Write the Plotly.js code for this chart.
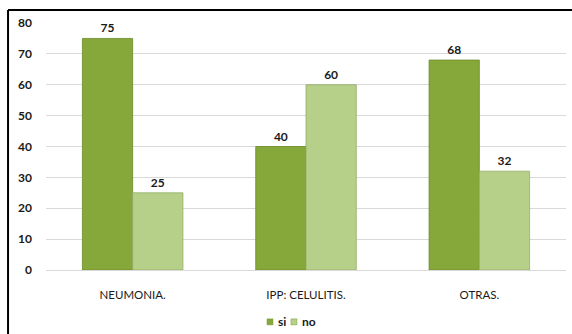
<!DOCTYPE html>
<html>
<head>
<meta charset="utf-8">
<script src="https://cdn.plot.ly/plotly-3.0.1.min.js"></script>
<style>
  html, body { margin: 0; padding: 0; background: #ffffff; overflow: hidden; }
  #chart { width: 572px; height: 334px; }
</style>
</head>
<body>
<div id="chart"></div>
<script>
// Categories and series values
var categories = ["NEUMONIA.", "IPP: CELULITIS.", "OTRAS."];
var seriesNames = ["si", "no"];
var siValues = [75, 40, 68];
var noValues = [25, 60, 32];
var yTicks = [0, 10, 20, 30, 40, 50, 60, 70, 80];

var font = "Lato, Open Sans, sans-serif";
var textColor = "#1a1a1a";
var siColor = "#86a83a";
var noColor = "#b6d08a";

function barTrace(name, values, color, edge) {
  return {
    type: "bar",
    name: name,
    x: categories,
    y: values,
    text: values.map(String),
    textposition: "outside",
    cliponaxis: false,
    textfont: { family: font, size: 12, color: textColor, weight: "bold" },
    marker: { color: color, line: { color: edge, width: 0.8 } },
    showlegend: false,
    hoverinfo: "none"
  };
}

var traces = [
  barTrace(seriesNames[0], siValues, siColor, "#6a8a2a"),
  barTrace(seriesNames[1], noValues, noColor, "#93ad66")
];

// Compact legend below the plot: small swatch + bold label per series
var legendY = -0.21;
var legendItems = [
  { name: seriesNames[0], color: siColor, x: 0.425 },
  { name: seriesNames[1], color: noColor, x: 0.471 }
];
var shapes = [];
var annotations = [];
legendItems.forEach(function (item) {
  shapes.push({
    type: "rect", xref: "paper", yref: "paper",
    x0: item.x, x1: item.x + 6 / 520,
    y0: legendY - 3 / 247, y1: legendY + 3 / 247,
    fillcolor: item.color, line: { color: "#7d9a3a", width: 0.5 }
  });
  annotations.push({
    xref: "paper", yref: "paper",
    x: item.x + 9 / 520, y: legendY,
    xanchor: "left", yanchor: "middle",
    text: item.name, showarrow: false,
    font: { family: font, size: 12, color: textColor, weight: "bold" }
  });
});

// Chart frame: only the top and left edges fall inside the page
var frameLeft = -0.073, frameTop = 1.0526;
shapes.push({
  type: "line", xref: "paper", yref: "paper",
  x0: frameLeft, x1: 1.02, y0: frameTop, y1: frameTop,
  line: { color: "#000000", width: 2 }, layer: "above"
});
shapes.push({
  type: "line", xref: "paper", yref: "paper",
  x0: frameLeft, x1: frameLeft, y0: frameTop, y1: -0.3,
  line: { color: "#000000", width: 2 }, layer: "above"
});

var layout = {
  width: 572,
  height: 334,
  margin: { l: 46, r: 6, t: 23, b: 64, autoexpand: false },
  paper_bgcolor: "#ffffff",
  plot_bgcolor: "#ffffff",
  barmode: "group",
  bargap: 0.42,
  bargroupgap: 0,
  showlegend: false,
  xaxis: {
    type: "category",
    showgrid: false,
    showline: true,
    linecolor: "#d9d9d9",
    linewidth: 1,
    ticks: "",
    tickfont: { family: font, size: 11.5, color: textColor },
    ticklabelstandoff: 14
  },
  yaxis: {
    range: [0, 80],
    tickvals: yTicks,
    showgrid: true,
    gridcolor: "#d9d9d9",
    gridwidth: 1,
    zeroline: false,
    showline: false,
    ticks: "",
    tickfont: { family: font, size: 12, color: textColor, weight: "bold" },
    ticklabelstandoff: 13
  },
  shapes: shapes,
  annotations: annotations
};

Plotly.newPlot("chart", traces, layout, { displayModeBar: false, staticPlot: true });
</script>
</body>
</html>
